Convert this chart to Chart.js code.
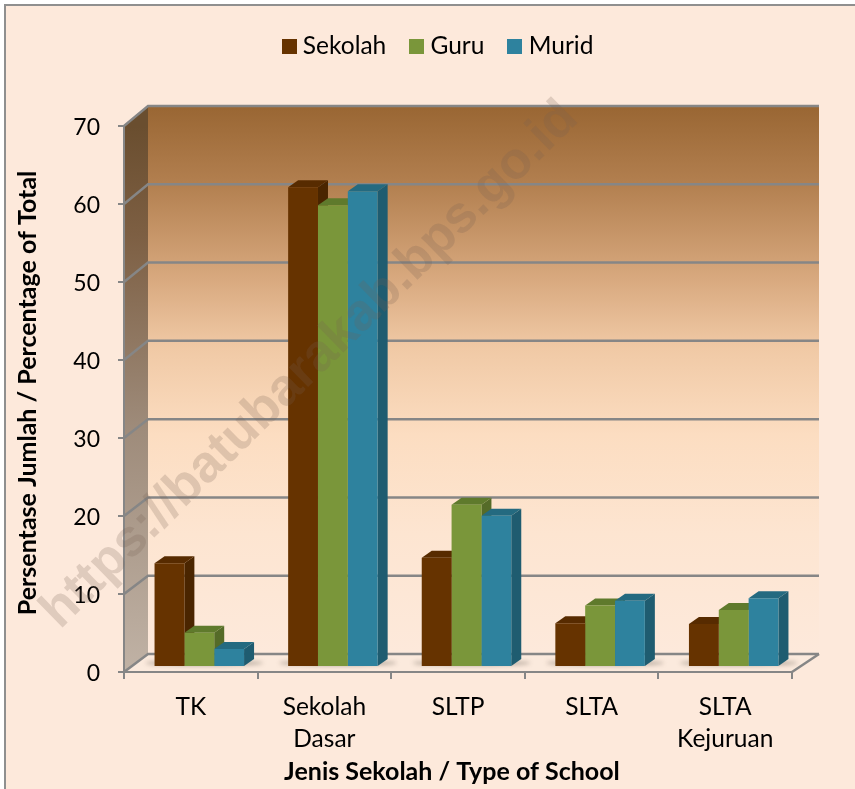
<!DOCTYPE html>
<html>
<head>
<meta charset="utf-8">
<title>Jenis Sekolah</title>
<script src="https://cdn.jsdelivr.net/npm/chart.js@4/dist/chart.umd.min.js"></script>
<style>
  html, body { margin: 0; padding: 0; background: #fff; }
  canvas { display: block; }
</style>
</head>
<body>
<canvas id="schoolChart" width="855" height="789"></canvas>
<script>
// ── Data ─────────────────────────────────────────────────────────
const CATEGORIES = ['TK', ['Sekolah', 'Dasar'], 'SLTP', 'SLTA', ['SLTA', 'Kejuruan']];
const SEKOLAH = [13.3, 61.5, 14.0, 5.6, 5.5];
const GURU    = [4.4, 59.2, 20.8, 7.9, 7.3];
const MURID   = [2.3, 61.0, 19.4, 8.5, 8.8];

// ── Shared defaults ──────────────────────────────────────────────
const FONT = "Lato, 'Open Sans', sans-serif";
const BG = '#FDE9DB';
const AXIS = '#868686';
const BAR_SHIFT = { x: 8.5, y: -5 };
const BAR_DEPTH = { x: 10, y: -7 };
const TEXT_SIZE = 24.5;

Chart.defaults.color = '#000';
Chart.defaults.font.family = FONT;
Chart.defaults.font.size = TEXT_SIZE;

// Back wall position of a front-plane value (the wall sits up and to the right)
function wallY(yScale, v) {
  return yScale.getPixelForValue(v) - 18 - 2 * v / 70;
}

// Legend swatch as a small canvas, the legend centres it on its point box
function swatch(color) {
  const c = document.createElement('canvas');
  c.width = 15;
  c.height = 15;
  const g = c.getContext('2d');
  g.fillStyle = color;
  g.fillRect(0, 0, 15, 15);
  return c;
}

// ── Frame, walls, floor, back grid ───────────────────────────────
const roomPlugin = {
  id: 'room',
  beforeLayout(chart) {
    // keep the plot top clear of the legend
    const legend = chart.legend;
    if (legend && !legend._patched) {
      const fit = legend.fit;
      legend.fit = function () { fit.call(this); this.height = 126; };
      legend._patched = true;
    }
  },
  afterLayout(chart) {
    const legend = chart.legend;
    legend.left += 44.5;
    legend.right += 44.5;
    legend.top += 5;
    // Lato digits sit high on the middle baseline
    chart.scales.y.getLabelItems(chart.chartArea).forEach(item => {
      item.options.translation[1] += 2;
    });
  },
  beforeDraw(chart) {
    const { ctx, chartArea: a, scales: { y } } = chart;
    const W = chart.width, H = chart.height;
    const backL = a.left + 24, backR = a.right + 27;
    const backTop = wallY(y, 70), backBot = wallY(y, 0);

    ctx.save();
    ctx.fillStyle = BG;
    ctx.fillRect(5, 5, W - 5, H - 5);
    ctx.fillStyle = '#8f8f8f';
    ctx.fillRect(4, 4, W - 4, 2);
    ctx.fillRect(4, 4, 2, H - 4);

    // back wall
    const wall = ctx.createLinearGradient(0, backTop, 0, backBot);
    wall.addColorStop(0, '#996633');
    wall.addColorStop(0.14, '#B27F4F');
    wall.addColorStop(0.32, '#D9AA80');
    wall.addColorStop(0.44, '#F0C9A5');
    wall.addColorStop(0.6, '#FCDDC1');
    wall.addColorStop(0.78, '#FDE5D1');
    wall.addColorStop(1, '#FDE9DB');
    ctx.fillStyle = wall;
    ctx.fillRect(backL, backTop, backR - backL, backBot - backTop);

    // side wall
    const side = ctx.createLinearGradient(0, a.top, 0, a.bottom);
    side.addColorStop(0, '#6A4E2F');
    side.addColorStop(0.2, '#7D5F43');
    side.addColorStop(0.55, '#9E8B7A');
    side.addColorStop(1, '#C0B2A5');
    ctx.fillStyle = side;
    ctx.beginPath();
    ctx.moveTo(a.left, a.top);
    ctx.lineTo(backL, backTop);
    ctx.lineTo(backL, backBot);
    ctx.lineTo(a.left, a.bottom);
    ctx.closePath();
    ctx.fill();

    // floor
    ctx.fillStyle = '#FBEADD';
    ctx.beginPath();
    ctx.moveTo(a.left, a.bottom);
    ctx.lineTo(backL, backBot);
    ctx.lineTo(backR, backBot);
    ctx.lineTo(a.right, a.bottom);
    ctx.closePath();
    ctx.fill();

    // grid, one line across the back wall and one down the side wall per tick
    ctx.strokeStyle = AXIS;
    ctx.lineWidth = 2.5;
    y.ticks.forEach(t => {
      const fy = y.getPixelForValue(t.value), by = wallY(y, t.value);
      ctx.beginPath();
      ctx.moveTo(a.left, fy);
      ctx.lineTo(backL, by);
      ctx.lineTo(backR, by);
      ctx.stroke();
    });
    // floor right edge
    ctx.beginPath();
    ctx.moveTo(a.right, a.bottom);
    ctx.lineTo(backR, backBot);
    ctx.stroke();
    ctx.restore();
  },
  beforeDatasetsDraw(chart) {
    const { ctx } = chart;
    ctx.save();
    ctx.translate(BAR_SHIFT.x, BAR_SHIFT.y);

    // soft shadow on the floor under each group
    const first = chart.getDatasetMeta(0).data;
    const last = chart.getDatasetMeta(2).data;
    ctx.save();
    ctx.filter = 'blur(2px)';
    ctx.fillStyle = 'rgba(70,60,50,0.35)';
    first.forEach((b, i) => {
      const l = last[i];
      ctx.beginPath();
      ctx.ellipse((b.x + l.x) / 2 + 5, b.base - 3, (l.x - b.x) / 2 + b.width / 2 + 14, 3, 0, 0, Math.PI * 2);
      ctx.fill();
    });
    ctx.restore();

    // side and top faces, fronts come from the library on top of these
    chart.data.datasets.forEach((ds, di) => {
      chart.getDatasetMeta(di).data.forEach(b => {
        const r = b.x + b.width / 2, l = b.x - b.width / 2;
        ctx.fillStyle = ds.sideColor;
        ctx.beginPath();
        ctx.moveTo(r, b.y);
        ctx.lineTo(r + BAR_DEPTH.x, b.y + BAR_DEPTH.y);
        ctx.lineTo(r + BAR_DEPTH.x, b.base + BAR_DEPTH.y);
        ctx.lineTo(r, b.base);
        ctx.closePath();
        ctx.fill();
        ctx.fillStyle = ds.topColor;
        ctx.beginPath();
        ctx.moveTo(l, b.y);
        ctx.lineTo(l + BAR_DEPTH.x, b.y + BAR_DEPTH.y);
        ctx.lineTo(r + BAR_DEPTH.x, b.y + BAR_DEPTH.y);
        ctx.lineTo(r, b.y);
        ctx.closePath();
        ctx.fill();
      });
    });
  },
  afterDatasetsDraw(chart) {
    chart.ctx.restore();
  },
  afterDraw(chart) {
    // watermark
    const { ctx } = chart;
    ctx.save();
    ctx.translate(310, 365);
    ctx.rotate(-Math.PI / 4 + 0.01);
    ctx.font = "bold 52px 'Liberation Sans', Arial, sans-serif";
    ctx.fillStyle = 'rgba(120,95,80,0.22)';
    ctx.textAlign = 'center';
    ctx.textBaseline = 'middle';
    ctx.fillText('https://batubarakab.bps.go.id', 0, 0);
    ctx.restore();
  }
};

// ── Chart ────────────────────────────────────────────────────────
new Chart(document.getElementById('schoolChart'), {
  type: 'bar',
  data: {
    labels: CATEGORIES,
    datasets: [
      { label: 'Sekolah', data: SEKOLAH, backgroundColor: '#663300', sideColor: '#4A2500', topColor: '#572B00' },
      { label: 'Guru',    data: GURU,    backgroundColor: '#7A963A', sideColor: '#556B28', topColor: '#5F7A2C' },
      { label: 'Murid',   data: MURID,   backgroundColor: '#2E829E', sideColor: '#1F5C70', topColor: '#246A80' }
    ]
  },
  options: {
    responsive: false,
    animation: false,
    layout: { padding: { left: 0, right: 63, top: 0, bottom: 0 } },
    datasets: { bar: { barPercentage: 1, categoryPercentage: 0.67 } },
    plugins: {
      tooltip: { enabled: false },
      legend: {
        position: 'top',
        labels: {
          usePointStyle: true,
          pointStyleWidth: 3,
          boxHeight: 15,
          padding: 29,
          color: '#000',
          font: { size: TEXT_SIZE },
          generateLabels: chart => chart.data.datasets.map((ds, i) => ({
            text: ds.label,
            pointStyle: swatch(ds.backgroundColor),
            fontColor: '#000',
            datasetIndex: i
          }))
        }
      }
    },
    scales: {
      x: {
        afterFit: s => { s.height = 117; },
        grid: { drawOnChartArea: false, color: AXIS, tickLength: 7, lineWidth: 2 },
        border: { color: AXIS, width: 2 },
        ticks: { padding: 12, maxRotation: 0, autoSkip: false, font: { size: TEXT_SIZE, lineHeight: 1.3 } },
        title: {
          display: true,
          // padding spaces nudge the centred title off the plot centre
          text: 'Jenis Sekolah / Type of School  ',
          color: '#000',
          font: { size: 25, weight: 'bold' },
          padding: { top: 0, bottom: 2 }
        }
      },
      y: {
        min: 0,
        max: 70,
        afterFit: s => { s.width = 124; },
        grid: { drawOnChartArea: false, color: AXIS, tickLength: 6, lineWidth: 2 },
        border: { color: AXIS, width: 2 },
        ticks: { stepSize: 10, padding: 18, font: { size: 23 } },
        title: {
          display: true,
          text: '  Persentase Jumlah / Percentage of Total',
          color: '#000',
          font: { size: 25, weight: 'bold' },
          padding: { top: 13, bottom: 0 }
        }
      }
    }
  },
  plugins: [roomPlugin]
});
</script>
</body>
</html>
